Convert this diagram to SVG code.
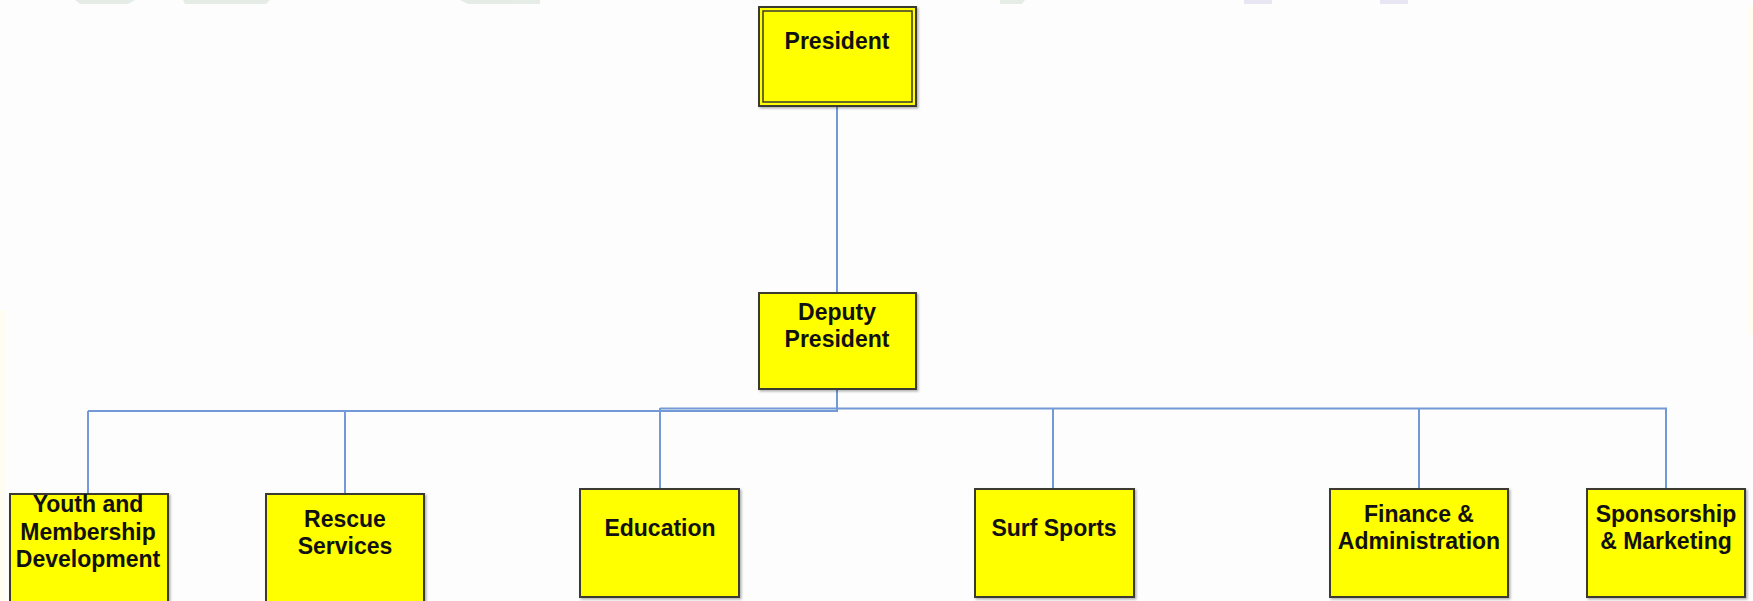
<svg xmlns="http://www.w3.org/2000/svg" width="1753" height="601" viewBox="0 0 1753 601">
<defs>
<style>
.box{fill:#ffff00;stroke:#3a3a33;stroke-width:2}
.lbl{font-family:"Liberation Sans",Arial,sans-serif;font-weight:bold;font-size:23px;fill:#111111;text-anchor:middle}
.ln{fill:none;stroke:#7399d6;stroke-width:2}
</style>
<filter id="sh" x="-5%" y="-5%" width="115%" height="115%">
<feDropShadow dx="1.5" dy="1.5" stdDeviation="1" flood-color="#000" flood-opacity="0.3"/>
</filter>
</defs>
<rect x="0" y="0" width="1753" height="601" fill="#fdfdfd"/>
<g id="watermark" opacity="0.9">
<path d="M75,0 L135,0 L128,4 L80,4 Z" fill="#e3ebe4"/>
<path d="M183,0 L270,0 L266,4 L185,4 Z" fill="#e3ebe4"/>
<path d="M460,0 L540,0 L540,4 L468,4 Z" fill="#e3ebe4"/>
<path d="M1000,0 L1025,0 L1022,4 L1000,4 Z" fill="#e3ebe4"/>
<rect x="1244" y="0" width="28" height="4" fill="#e6e4f2"/>
<rect x="1380" y="0" width="28" height="4" fill="#e6e4f2"/>
<rect x="1748" y="5" width="5" height="330" fill="#fffdf0"/>
<rect x="0" y="310" width="6" height="291" fill="#fffdf0"/>
</g>
<g id="connectors">
<line class="ln" x1="837" y1="107" x2="837" y2="293"/>
<line class="ln" x1="837" y1="389" x2="837" y2="412"/>
<line class="ln" x1="88" y1="411" x2="345" y2="411" stroke="#a5bde6" stroke-width="2.5"/>
<line class="ln" x1="345" y1="411" x2="838" y2="411" stroke="#5f88cf" stroke-width="3"/>
<line class="ln" x1="660" y1="408.5" x2="1667" y2="408.5"/>
<line class="ln" x1="88" y1="411" x2="88" y2="494" stroke="#98b4e2"/>
<line class="ln" x1="345" y1="411" x2="345" y2="494"/>
<line class="ln" x1="660" y1="408" x2="660" y2="489"/>
<line class="ln" x1="1053" y1="408" x2="1053" y2="489" stroke="#a6bfe6" stroke-width="3"/>
<line class="ln" x1="1419" y1="408" x2="1419" y2="489"/>
<line class="ln" x1="1666" y1="408" x2="1666" y2="489"/>
</g>
<g id="president">
<rect class="box" x="759" y="7" width="157" height="99" filter="url(#sh)"/>
<rect x="763" y="11" width="149" height="91" fill="none" stroke="#3a3a33" stroke-width="1.5"/>
<text class="lbl" x="837" y="49">President</text>
</g>
<g id="deputy">
<rect class="box" x="759" y="293" width="157" height="96" filter="url(#sh)"/>
<text class="lbl" x="837" y="320">Deputy</text>
<text class="lbl" x="837" y="347">President</text>
</g>
<g id="youth">
<rect class="box" x="10" y="494" width="158" height="120" filter="url(#sh)"/>
<text class="lbl" x="88" y="512">Youth and</text>
<text class="lbl" x="88" y="540">Membership</text>
<text class="lbl" x="88" y="567">Development</text>
</g>
<g id="rescue">
<rect class="box" x="266" y="494" width="158" height="120" filter="url(#sh)"/>
<text class="lbl" x="345" y="527">Rescue</text>
<text class="lbl" x="345" y="554">Services</text>
</g>
<g id="education">
<rect class="box" x="580" y="489" width="159" height="108" filter="url(#sh)"/>
<text class="lbl" x="660" y="536">Education</text>
</g>
<g id="surf">
<rect class="box" x="975" y="489" width="159" height="108" filter="url(#sh)"/>
<text class="lbl" x="1054" y="536">Surf Sports</text>
</g>
<g id="finance">
<rect class="box" x="1330" y="489" width="178" height="108" filter="url(#sh)"/>
<text class="lbl" x="1419" y="522">Finance &amp;</text>
<text class="lbl" x="1419" y="549">Administration</text>
</g>
<g id="sponsorship">
<rect class="box" x="1587" y="489" width="158" height="108" filter="url(#sh)"/>
<text class="lbl" x="1666" y="522">Sponsorship</text>
<text class="lbl" x="1666" y="549">&amp; Marketing</text>
</g>
</svg>
